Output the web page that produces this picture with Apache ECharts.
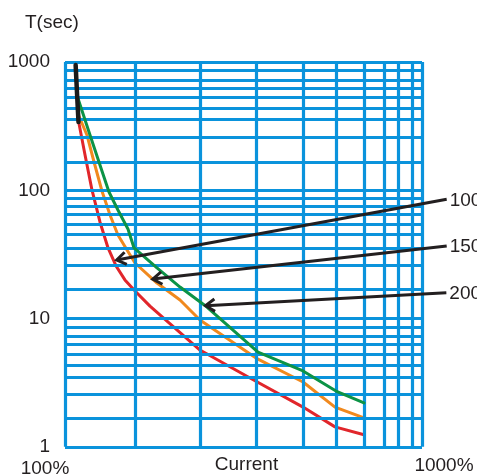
<!DOCTYPE html>
<html><head><meta charset="utf-8">
<script src="https://cdn.jsdelivr.net/npm/echarts@6/dist/echarts.min.js"></script>
<style>html,body{margin:0;padding:0;background:#fff}#c{width:477px;height:476px}</style>
</head><body><div id="c"></div>
<script>
// grid line values (hand-drawn scale of the original)
const xGridValues = [100, 157, 239, 343, 466, 576, 688, 785, 859, 937.6, 1000];
const yGridValues = [1, 1.67, 2.57, 3.48, 4.35, 5.3, 6.3, 7.33, 8.6,
                     10, 16.8, 25.9, 35.6, 45.2, 54.1, 64.7, 75.1, 87.3,
                     100, 166, 258, 355, 437, 533, 626, 727, 870, 1000];
const yTickLabels = [1, 10, 100, 1000];
const xEndLabels = ['100%', '1000%'];

// curves: current (%) vs time (sec)
const redCurrent = [109.1, 113.8, 119.0, 125.3, 132.0, 139.0, 147.2, 157.1, 173.0, 238.8, 329.8, 464.2, 570.5, 687.9];
const redTime    = [346.7, 188.4, 100.5, 56.6, 35.5, 25.7, 20.0, 16.4, 12.5, 5.68, 3.44, 2.04, 1.43, 1.24];
const orangeCurrent = [109.4, 115.2, 120.6, 126.9, 133.7, 140.7, 149.2, 157.1, 181.0, 210.0, 238.8, 342.8, 464.2, 570.5, 687.9];
const orangeTime    = [379.3, 269.8, 166.1, 98.7, 64.1, 44.8, 34.2, 27.1, 18.9, 13.95, 9.74, 4.92, 3.20, 2.04, 1.68];
const greenCurrent = [108.4, 117.5, 126.1, 132.8, 140.7, 150.1, 156.1, 181.0, 210.0, 249.8, 347.2, 464.2, 574.2, 687.9];
const greenTime    = [533.4, 269.8, 149.1, 96.9, 70.2, 49.9, 35.5, 24.8, 17.6, 12.3, 5.48, 3.90, 2.72, 2.20];
const blackCurrent = [107.1, 108.1, 109.1];
const blackTime    = [948, 560, 340];

// annotation arrows: label, start (current, time), tip (current, time)
const arrowLabels = ['100', '150', '200'];
const arrowStartCurrent = [1172.7, 1172.7, 1170];
const arrowStartTime = [85.0, 36.8, 15.9];
const arrowTipCurrent = [139.6, 176.1, 247.7];
const arrowTipTime = [28.6, 20.3, 12.6];

const FONT = "'Liberation Sans', Arial, Helvetica, sans-serif";
const TXT = '#231f20';
const BLUE = '#0a93dc';
const FS = 19;

const zip = (a, b) => a.map((v, i) => [v, b[i]]);
const chart = echarts.init(document.getElementById('c'), null, {renderer: 'canvas'});

const curve = (name, color, xs, ys, w, z) => ({
  name, type: 'line', data: zip(xs, ys), showSymbol: false, symbol: 'none',
  lineStyle: {color, width: w, cap: 'round', join: 'round'}, z, silent: true, animation: false
});

chart.setOption({
  animation: false,
  grid: {left: 65, top: 62, width: 357, height: 384.8, containLabel: false},
  xAxis: {type: 'log', logBase: 10, min: 100, max: 1000,
    axisLine: {show: false}, axisTick: {show: false}, splitLine: {show: false}, axisLabel: {show: false}},
  yAxis: {type: 'log', logBase: 10, min: 1, max: 1000,
    axisLine: {show: false}, axisTick: {show: false}, splitLine: {show: false},
    axisLabel: {show: true, fontSize: FS, color: TXT, fontFamily: FONT, margin: 15,
      formatter: v => (yTickLabels.indexOf(Math.round(v)) >= 0 ? String(Math.round(v)) : '')}},
  series: [
    {type: 'line', data: [], z: 1, silent: true,
      markLine: {silent: true, symbol: 'none', animation: false, label: {show: false},
        lineStyle: {color: BLUE, width: 3.2, type: 'solid'},
        emphasis: {disabled: true},
        data: yGridValues.map(v => ({yAxis: v})).concat(xGridValues.map(v => ({xAxis: v})))}},
    curve('red', '#e1262b', redCurrent, redTime, 3, 3),
    curve('orange', '#f0891e', orangeCurrent, orangeTime, 3, 4),
    curve('green', '#0c9346', greenCurrent, greenTime, 3, 5),
    curve('black', '#1a1a1a', blackCurrent, blackTime, 4.5, 6)
  ]
});

function buildGraphics() {
  const g = [];
  const textStyle = (text, x, y, align) => ({type: 'text', x, y, silent: true, z: 20,
    style: {text, fontSize: FS, fill: TXT, font: FS + 'px ' + FONT, textAlign: align || 'left', textVerticalAlign: 'middle'}});
  g.push(textStyle('T(sec)', 25, 23, 'left'));
  const p100 = chart.convertToPixel({gridIndex: 0}, [100, 1]);
  const p1000 = chart.convertToPixel({gridIndex: 0}, [1000, 1]);
  g.push(textStyle(xEndLabels[0], p100[0] - 20, 469, 'center'));
  g.push(textStyle(xEndLabels[1], p1000[0] + 22, 466, 'center'));
  g.push(textStyle('Current', (p100[0] + p1000[0]) / 2 + 3, 465, 'center'));
  arrowLabels.forEach((lab, i) => {
    const s = chart.convertToPixel({gridIndex: 0}, [arrowStartCurrent[i], arrowStartTime[i]]);
    const t = chart.convertToPixel({gridIndex: 0}, [arrowTipCurrent[i], arrowTipTime[i]]);
    g.push({type: 'line', silent: true, z: 15, shape: {x1: s[0], y1: s[1], x2: t[0], y2: t[1]},
      style: {stroke: TXT, lineWidth: 3}});
    const ang = Math.atan2(s[1] - t[1], s[0] - t[0]);
    const L = 11, a = 0.6;
    const p1 = [t[0] + L * Math.cos(ang + a), t[1] + L * Math.sin(ang + a)];
    const p2 = [t[0] + L * Math.cos(ang - a), t[1] + L * Math.sin(ang - a)];
    g.push({type: 'polyline', silent: true, z: 16, shape: {points: [p1, t, p2]},
      style: {stroke: TXT, lineWidth: 3, fill: null, lineJoin: 'miter'}});
    g.push(textStyle(lab, s[0] + 3, s[1] + 1, 'left'));
  });
  chart.setOption({graphic: g});
}
buildGraphics();
</script>
</body></html>
